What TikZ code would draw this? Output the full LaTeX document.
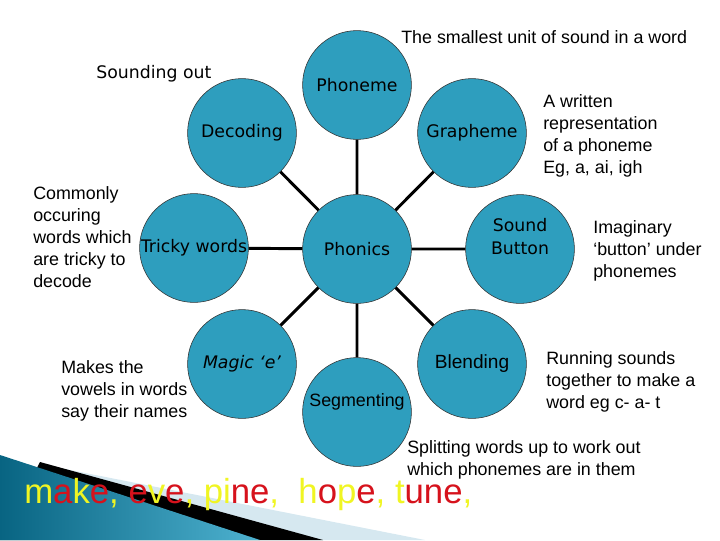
\documentclass[tikz,border=0pt]{standalone}
\usepackage{fontspec}
\setmainfont{Liberation Sans}
\newfontfamily\comicish{DejaVu Sans}
\usetikzlibrary{arrows,shapes}

\definecolor{bubblefill}{RGB}{46,158,190}
\definecolor{swooshdark}{RGB}{8,100,130}
\definecolor{swooshlight}{RGB}{78,178,208}
\definecolor{paleblue}{RGB}{214,232,240}
\definecolor{vowelred}{RGB}{214,18,28}
\definecolor{consyellow}{RGB}{240,245,35}

\newcommand{\yl}[1]{\textcolor{consyellow}{#1}}
\newcommand{\rd}[1]{\textcolor{vowelred}{#1}}

\begin{document}
\begin{tikzpicture}[x=0.025cm,y=-0.025cm,
    bubble/.style={shape=circle,draw=black!80,thin,fill=bubblefill,minimum size=2.72cm,inner sep=0pt,
                   font=\comicish\fontsize{12.3}{16.4}\selectfont},
    note/.style={anchor=west,align=left,inner sep=0pt,font=\fontsize{12.7}{15.6}\selectfont},
    link/.style={line width=2.1pt}]
                \useasboundingbox (0,0) rectangle (720,540);
                % swoosh in the corner
                \fill[paleblue] (60,468) -- (425,540) -- (0,540) -- cycle;
                \fill[black] (40,462) -- (323,540) -- (0,540) -- cycle;
                \shade[left color=swooshdark,right color=swooshlight] (0,455) -- (260,540) -- (0,540) -- cycle;
                % bubbles
                \node[bubble](phonics)at(357, 249){Phonics};
                \node[bubble](phoneme)at(357, 85){Phoneme};
                \node[bubble](decoding)at(242, 133){Decoding};
                \node[bubble](grapheme)at(472, 133){Grapheme};
                \node[bubble](tricky)at(194, 248){Tricky words};
                \node[bubble](button)at(520, 249){};
                \node[bubble,font=\comicish\itshape\fontsize{12.3}{16.4}\selectfont](magic)at(242, 364){Magic ‘e’};
                \node[bubble](segmenting)at(357, 412){};
                \node[bubble,font=\fontsize{13.6}{16}\selectfont](blending)at(472, 364){Blending};
                \node[align=center,inner sep=0pt,font=\comicish\fontsize{12.3}{16.4}\selectfont](buttontext)at(520, 237){Sound\\Button};
                \node[inner sep=0pt,font=\fontsize{12.7}{15.6}\selectfont](segtext)at(357, 402){Segmenting};
                \draw[link](phonics) -- (phoneme)
                (phonics) -- (decoding)
                (phonics) -- (grapheme)
                (phonics) -- (tricky)
                (phonics) -- (button)
                (phonics) -- (magic)
                (phonics) -- (segmenting)
                (phonics) -- (blending);
                % notes
                \node[note](smallest)at(401, 37){The smallest unit of sound in a word};
                \node[note,font=\comicish\fontsize{12.3}{16.4}\selectfont](sounding)at(96, 74){Sounding out};
                \node[note](written)at(543, 136){A written\\representation\\of a phoneme\\Eg, a, ai, igh};
                \node[note](imaginary)at(593, 251){Imaginary\\‘button’ under\\phonemes};
                \node[note](running)at(546, 382){Running sounds\\together to make a\\word eg c- a- t};
                \node[note](splitting)at(407, 460){Splitting words up to work out\\which phonemes are in them};
                \node[note](commonly)at(33, 237){Commonly\\occuring\\words which\\are tricky to\\decode};
                \node[note](makes)at(61, 391){Makes the\\vowels in words\\say their names};
                \node[anchor=base west,inner sep=0pt,font=\fontsize{24.7}{28}\selectfont](examples)at(24, 503){%
                  \yl{m}\rd{a}\yl{k}\rd{e}\yl{,} \rd{e}\yl{v}\rd{e}\yl{,} \yl{pi}\rd{ne}\yl{,}\ \ \yl{h}\rd{o}\yl{p}\rd{e}\yl{,} \yl{t}\rd{une}\yl{,}};
            \end{tikzpicture}
\end{document}
